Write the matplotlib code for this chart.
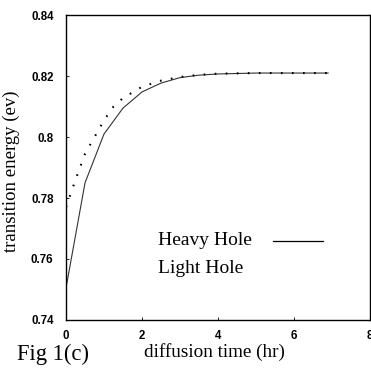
import matplotlib
matplotlib.use("Agg")
import matplotlib.pyplot as plt

# diffusion time (hr) and transition energy (eV)
heavy_t = [0, 0.5, 1.0, 1.5, 2.0, 2.5, 3.0, 3.5, 4.0, 5.0, 6.0, 6.9]
heavy_e = [0.7505, 0.785, 0.801, 0.8095, 0.8148, 0.8177, 0.8195, 0.8203, 0.8207, 0.821, 0.821, 0.821]

light_t = [0, 0.25, 0.5, 0.75, 1.0, 1.25, 1.5, 2.0, 2.5, 3.0, 3.5, 4.0, 5.0, 6.0, 6.9]
light_e = [0.777, 0.786, 0.7945, 0.800, 0.8055, 0.810, 0.8128, 0.8165, 0.8185, 0.8197,
           0.8204, 0.8208, 0.821, 0.821, 0.821]

xticks = [0, 2, 4, 6, 8]
yticks = [0.74, 0.76, 0.78, 0.80, 0.82, 0.84]
ytick_labels = ["0.74", "0.76", "0.78", "0.8", "0.82", "0.84"]

serif = "Liberation Serif"
sans = "Liberation Sans"

fig = plt.figure(figsize=(3.71, 3.69), dpi=100)
ax = fig.add_axes([0.178, 0.133, 0.819, 0.826])

ax.plot(heavy_t, heavy_e, color="#333333", lw=0.8)
ax.plot(light_t, light_e, color="black", lw=1.5, linestyle=(0, (0.8, 4.5)))

ax.set_xlim(0, 8)
ax.set_ylim(0.74, 0.84)
ax.set_xticks(xticks)
ax.set_xticklabels([str(t) for t in xticks], fontfamily=sans, fontsize=8.3, fontweight="bold")
ax.set_yticks(yticks)
ax.set_yticklabels(ytick_labels, fontfamily=sans, fontsize=8.3, fontweight="bold")
ax.tick_params(direction="in", length=2, width=0.6, pad=9)
ax.tick_params(axis="x", pad=7)
for s in ax.spines.values():
    s.set_linewidth(1.0)

# legend drawn by hand (text first, line sample after)
ax.text(0.303, 0.262, "Heavy Hole", transform=ax.transAxes, fontfamily=serif,
        fontsize=14, va="center", ha="left")
ax.text(0.303, 0.170, "Light Hole", transform=ax.transAxes, fontfamily=serif,
        fontsize=14, va="center", ha="left")
ax.plot([0.68, 0.845], [0.259, 0.259], transform=ax.transAxes, color="black", lw=0.9)

fig.text(0.03, 0.537, "transition energy (ev)", rotation=90, fontfamily=serif,
         fontsize=13.5, ha="center", va="center")
fig.text(0.577, 0.046, "diffusion time (hr)", fontfamily=serif, fontsize=13.8,
         ha="center", va="center")
fig.text(0.046, 0.040, "Fig 1(c)", fontfamily=serif, fontsize=16.3, ha="left", va="center")

fig.savefig("out.png", dpi=100)
